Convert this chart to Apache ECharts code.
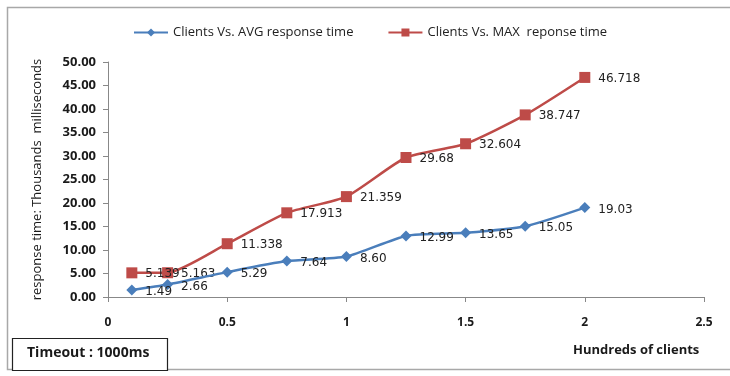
<!DOCTYPE html>
<html><head><meta charset="utf-8">
<script src="https://cdn.jsdelivr.net/npm/echarts@6/dist/echarts.min.js"></script>
<style>html,body{margin:0;padding:0;background:#fff}#c{width:730px;height:376px}</style>
</head><body><div id="c"></div>
<script>
var clients = [0.1, 0.25, 0.5, 0.75, 1, 1.25, 1.5, 1.75, 2];
var avgTime = [1.49, 2.66, 5.29, 7.64, 8.60, 12.99, 13.65, 15.05, 19.03];
var maxTime = [5.139, 5.163, 11.338, 17.913, 21.359, 29.68, 32.604, 38.747, 46.718];
var avgLabels = ['1.49','2.66','5.29','7.64','8.60','12.99','13.65','15.05','19.03'];
var maxLabels = ['5.139','5.163','11.338','17.913','21.359','29.68','32.604','38.747','46.718'];
var seriesNames = ['Clients Vs. AVG response time', 'Clients Vs. MAX  reponse time'];

function pairs(xs, ys, labels){ return xs.map(function(x,i){ return {value:[x, ys[i]], lbl: labels[i]}; }); }

var chart = echarts.init(document.getElementById('c'), null, {renderer:'canvas'});
chart.setOption({
  animation:false,
  backgroundColor:'#fff',
  graphic:[
    {type:'rect', shape:{x:7.5,y:7.5,width:740,height:362}, style:{fill:null, stroke:'#a8a8a8', lineWidth:1.5}, silent:true},
    {type:'rect', shape:{x:12.5,y:338.5,width:155,height:32}, style:{fill:'#fff', stroke:'#222', lineWidth:1.2}, silent:true},
    {type:'text', left:27, top:346, style:{text:'Timeout : 1000ms', font:'bold 14px "Open Sans", "Liberation Sans", sans-serif', fill:'#1a1a1a'}},
    {type:'text', left:573, top:344, style:{text:'Hundreds of clients', font:'bold 13px "Open Sans", "Liberation Sans", sans-serif', fill:'#1a1a1a'}}
  ],
  legend:{
    top:21, left:128, itemGap:34, itemWidth:34, itemHeight:10,
    textStyle:{fontFamily:'Open Sans', fontSize:13, color:'#222'},
    data:seriesNames
  },
  grid:{left:108, right:26, top:62, bottom:79},
  xAxis:{
    type:'value', min:0, max:2.5, interval:0.5,
    axisLine:{show:true, lineStyle:{color:'#888', width:1}},
    axisTick:{show:true, length:5, lineStyle:{color:'#888'}},
    axisLabel:{margin:20, fontFamily:'Open Sans', fontWeight:'bold', fontSize:12, color:'#1a1a1a'},
    splitLine:{show:false}
  },
  yAxis:{
    type:'value', min:0, max:50, interval:5,
    name:'response time: Thousands  milliseconds', nameLocation:'middle', nameGap:64, nameRotate:90,
    nameTextStyle:{fontFamily:'Open Sans', fontSize:13, color:'#1a1a1a'},
    axisLine:{show:true, lineStyle:{color:'#888', width:1}},
    axisTick:{show:true, length:5, lineStyle:{color:'#888'}},
    axisLabel:{margin:12, fontFamily:'Open Sans', fontWeight:'bold', fontSize:13, color:'#1a1a1a', formatter:function(v){return v.toFixed(2);}},
    splitLine:{show:false}
  },
  series:[
    {
      name:seriesNames[0], type:'line', smooth:0.2,
      data:pairs(clients, avgTime, avgLabels),
      symbol:'diamond', symbolSize:11,
      itemStyle:{color:'#4A7EBB'}, lineStyle:{color:'#4A7EBB', width:2.5},
      label:{show:true, position:'right', distance:8, offset:[0,2], formatter:function(p){return p.data.lbl;}, fontFamily:'DejaVu Sans', fontSize:12, color:'#222'},
      z:3
    },
    {
      name:seriesNames[1], type:'line', smooth:0.2,
      data:pairs(clients, maxTime, maxLabels),
      symbol:'rect', symbolSize:11,
      itemStyle:{color:'#BE4B48'}, lineStyle:{color:'#BE4B48', width:2.5},
      label:{show:true, position:'right', distance:8, offset:[0,1], formatter:function(p){return p.data.lbl;}, fontFamily:'DejaVu Sans', fontSize:12, color:'#222'},
      z:2
    }
  ]
});
</script></body></html>
